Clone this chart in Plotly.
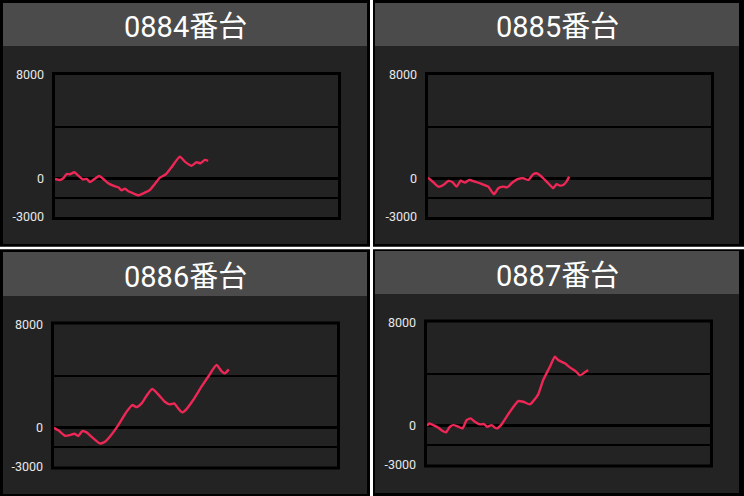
import plotly.graph_objects as go

# ---------------- data ----------------
titles = ["0884番台", "0885番台", "0886番台", "0887番台"]

games_0884 = [0, 150, 250, 350, 450, 580, 700, 830, 950, 1050, 1200, 1330, 1450, 1600, 1750,
              1900, 2000, 2100, 2200, 2350, 2500, 2650, 2850, 3000, 3150, 3330, 3500, 3750,
              3900, 4100, 4250, 4370, 4500, 4600]
diff_0884 = [-50, -130, 0, 330, 310, 465, 200, -80, -55, -290, -30, 180, -55, -390, -575,
             -700, -930, -805, -1010, -1165, -1320, -1165, -905, -440, 45, 310, 855, 1675,
             1285, 975, 1240, 1165, 1420, 1340]

games_0885 = [0, 160, 310, 460, 610, 740, 860, 980, 1110, 1240, 1410, 1610, 1810, 1980, 2110,
              2260, 2380, 2510, 2710, 2860, 3010, 3160, 3260, 3380, 3510, 3660, 3760, 3860,
              3960, 4060, 4160, 4240]
diff_0885 = [50, -310, -650, -520, -210, -310, -650, -190, -340, -130, -260, -440, -650, -1240,
             -775, -650, -700, -390, -55, 0, -130, 310, 390, 200, -130, -520, -775, -465,
             -570, -520, -260, 125]

games_0886 = [0, 130, 330, 480, 610, 730, 850, 980, 1130, 1380, 1530, 1730, 1930, 2180, 2350,
              2480, 2630, 2780, 2950, 3130, 3330, 3480, 3610, 3730, 3850, 3980, 4180, 4430,
              4630, 4880, 5030, 5130, 5250]
diff_0886 = [0, -200, -620, -570, -465, -640, -255, -360, -700, -1210, -1085, -515, 210, 1240,
             1760, 1600, 1890, 2480, 3000, 2590, 2015, 1810, 1890, 1500, 1190, 1450, 2150,
             3180, 3950, 4860, 4390, 4215, 4525]

games_0887 = [0, 70, 190, 340, 470, 570, 690, 790, 940, 1070, 1190, 1310, 1440, 1590, 1710,
              1810, 1940, 2040, 2110, 2240, 2490, 2740, 2890, 3090, 3190, 3340, 3490, 3690,
              3840, 3940, 4140, 4290, 4470, 4590, 4740, 4840]
diff_0887 = [0, 180, 50, -155, -410, -510, -75, 50, -75, -200, 440, 570, 310, 110, 130, -75,
             50, -155, -200, 110, 1085, 1910, 1860, 1660, 1910, 2430, 3540, 4570, 5350, 5090,
             4835, 4525, 4215, 3905, 4140, 4315]

y_tickvals = [-3000, 0, 8000]
y_ticktext = ["-3000", "0", "8000"]
grid_levels = [-1500, 4000]
y_range = [-3000, 8000]
x_range = [0, 8500]

series = [(games_0884, diff_0884), (games_0885, diff_0885),
          (games_0886, diff_0886), (games_0887, diff_0887)]

# ---------------- geometry (pixels) ----------------
W, H = 744, 496
panels = [
    dict(px0=3, px1=367, py0=3, py1=244, hy1=46, ax0=55, ax1=338, ay0=75, ay1=217),
    dict(px0=375, px1=739, py0=3, py1=244, hy1=46, ax0=428, ax1=711, ay0=75, ay1=217),
    dict(px0=3, px1=367, py0=252, py1=494, hy1=296, ax0=54, ax1=337, ay0=324.5, ay1=466.5),
    dict(px0=375, px1=739, py0=251, py1=493, hy1=294, ax0=427, ax1=710, ay0=322.5, ay1=464.5),
]

def fx(p):
    return p / W

def fy(p):
    return 1 - p / H

PANEL_BG = "#232323"
HEADER_BG = "#4b4b4b"
LINE_COLOR = "#ee2756"

fig = go.Figure()
shapes = []
annotations = []
layout_axes = {}

for i, (pn, (gx, gy), title) in enumerate(zip(panels, series, titles), start=1):
    sfx = "" if i == 1 else str(i)
    fig.add_trace(go.Scatter(
        x=gx, y=gy, mode="lines",
        line=dict(color=LINE_COLOR, width=2.4, shape="spline", smoothing=0.5),
        xaxis="x" + sfx, yaxis="y" + sfx, showlegend=False, hoverinfo="skip",
    ))
    layout_axes["xaxis" + sfx] = dict(
        domain=[fx(pn["ax0"]), fx(pn["ax1"])], range=x_range, anchor="y" + sfx,
        visible=False, showgrid=False, zeroline=False, fixedrange=True, automargin=False,
    )
    layout_axes["yaxis" + sfx] = dict(
        domain=[fy(pn["ay1"]), fy(pn["ay0"])], range=y_range, anchor="x" + sfx,
        tickmode="array", tickvals=y_tickvals, ticktext=y_ticktext,
        tickfont=dict(family="Roboto, Noto Sans, sans-serif", size=12.5, color="#e8e8e8"),
        ticks="", ticklabelstandoff=10, automargin=False,
        showgrid=False, showline=False,
        zeroline=True, zerolinecolor="#000000", zerolinewidth=2.5,
        minor=dict(tickvals=grid_levels, showgrid=True, gridcolor="#000000",
                   gridwidth=1.5, ticks=""),
        fixedrange=True,
    )
    # panel background
    shapes.append(dict(type="rect", xref="paper", yref="paper", layer="below",
                       x0=fx(pn["px0"]), x1=fx(pn["px1"]), y0=fy(pn["py1"]), y1=fy(pn["py0"]),
                       fillcolor=PANEL_BG, line=dict(width=0)))
    # header bar
    shapes.append(dict(type="rect", xref="paper", yref="paper", layer="below",
                       x0=fx(pn["px0"]), x1=fx(pn["px1"]), y0=fy(pn["hy1"]), y1=fy(pn["py0"]),
                       fillcolor=HEADER_BG, line=dict(width=0)))
    # chart border
    shapes.append(dict(type="rect", xref="paper", yref="paper", layer="above",
                       x0=fx(pn["ax0"] - 1.5), x1=fx(pn["ax1"] + 1.5),
                       y0=fy(pn["ay1"] + 1.5), y1=fy(pn["ay0"] - 1.5),
                       line=dict(color="#000000", width=3), fillcolor="rgba(0,0,0,0)"))
    annotations.append(dict(
        text=title, xref="paper", yref="paper", showarrow=False,
        x=fx((pn["px0"] + pn["px1"]) / 2), y=fy((pn["py0"] + pn["hy1"]) / 2 + 3),
        xanchor="center", yanchor="middle",
        font=dict(family="Roboto, Noto Sans CJK JP, sans-serif", size=29, color="#ffffff"),
    ))

# white separators
shapes.append(dict(type="rect", xref="paper", yref="paper", layer="below",
                   x0=fx(370), x1=fx(373), y0=0, y1=1,
                   fillcolor="#ffffff", line=dict(width=0)))
shapes.append(dict(type="rect", xref="paper", yref="paper", layer="below",
                   x0=0, x1=1, y0=fy(249.3), y1=fy(246.7),
                   fillcolor="#ffffff", line=dict(width=0)))

fig.update_layout(
    width=W, height=H, margin=dict(l=0, r=0, t=0, b=0, pad=0, autoexpand=False),
    paper_bgcolor="#000000", plot_bgcolor=PANEL_BG,
    shapes=shapes, annotations=annotations, showlegend=False,
    **layout_axes,
)

fig.write_html(
    "out.html",
    config={"displayModeBar": False},
    post_script="document.body.style.margin='0';document.body.style.overflow='hidden';"
                "document.body.style.background='#000';",
)
